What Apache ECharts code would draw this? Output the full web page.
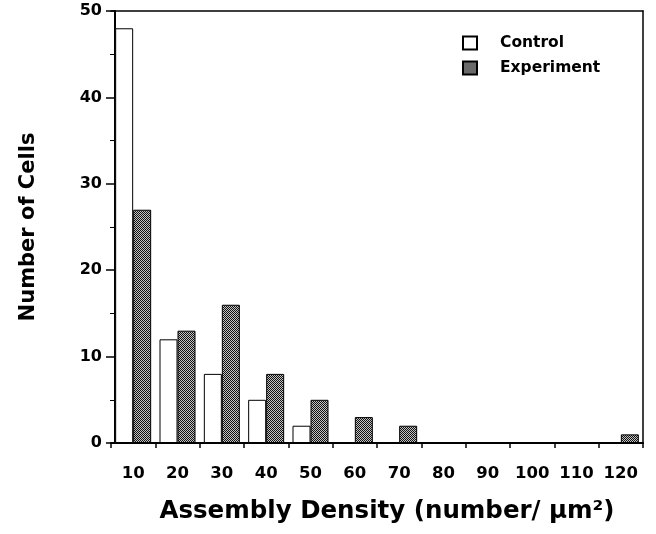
<!DOCTYPE html>
<html>
<head>
<meta charset="utf-8">
<script src="https://cdn.jsdelivr.net/npm/echarts@6/dist/echarts.min.js"></script>
<style>html,body{margin:0;padding:0;background:#fff}#c{width:656px;height:534px}</style>
</head>
<body>
<div id="c"></div>
<script>
var categories = ['10','20','30','40','50','60','70','80','90','100','110','120'];
var controlValues = [48, 12, 8, 5, 2, 0, 0, 0, 0, 0, 0, 0];
var experimentValues = [27, 13, 16, 8, 5, 3, 2, 0, 0, 0, 0, 1];
var yTicks = [0, 10, 20, 30, 40, 50];

function makePattern() {
  var cv = document.createElement('canvas');
  cv.width = 2; cv.height = 2;
  var ctx = cv.getContext('2d');
  ctx.fillStyle = '#c4c4c4'; ctx.fillRect(0,0,2,2);
  ctx.fillStyle = '#111'; ctx.fillRect(0,0,1,1); ctx.fillRect(1,1,1,1);
  return cv;
}
var pattern = { image: makePattern(), repeat: 'repeat' };
var FONT = '"DejaVu Sans", Verdana, sans-serif';

var chart = echarts.init(document.getElementById('c'), null, {renderer: 'canvas'});
chart.setOption({
  animation: false,
  backgroundColor: '#fff',
  grid: { left: 111, right: 13, top: 11, bottom: 91 },
  legend: {
    orient: 'vertical', left: 457, top: 30, itemWidth: 14, itemHeight: 13, itemGap: 9,
    icon: 'rect',
    textStyle: { fontFamily: FONT, fontWeight: 'bold', fontSize: 15.5, color: '#000', padding: [0,0,0,18] },
    data: ['Control', 'Experiment']
  },
  xAxis: [{
    type: 'category', data: categories, boundaryGap: true,
    axisLine: { lineStyle: { color: '#000', width: 2 } },
    axisTick: { show: true, interval: 0, length: 5, lineStyle: { color: '#000', width: 1.5 } },
    axisLabel: { interval: 0, margin: 22, fontFamily: FONT, fontWeight: 'bold', fontSize: 16.5, color: '#000' },
    name: 'Assembly Density (number/ \u03bcm\u00b2)', nameLocation: 'middle', nameGap: 56,
    nameTextStyle: { fontFamily: FONT, fontWeight: 'bold', fontSize: 24.5, color: '#000', padding: [0,0,0,20] }
  }, {
    type: 'category', data: categories, position: 'top',
    axisLine: { show: true, onZero: false, lineStyle: { color: '#000', width: 1.5 } },
    axisTick: { show: false }, axisLabel: { show: false }
  }],
  yAxis: [{
    type: 'value', min: yTicks[0], max: yTicks[yTicks.length-1], interval: 10, offset: -4,
    axisLine: { show: true, lineStyle: { color: '#000', width: 2 } },
    axisTick: { show: true, length: 9, lineStyle: { color: '#000', width: 1.5 } },
    minorTick: { show: true, splitNumber: 2, length: 5, lineStyle: { color: '#000', width: 1 } },
    splitLine: { show: false },
    axisLabel: { margin: 13, fontFamily: FONT, fontWeight: 'bold', fontSize: 16, color: '#000' },
    name: 'Number of Cells', nameLocation: 'middle', nameGap: 76,
    nameTextStyle: { fontFamily: FONT, fontWeight: 'bold', fontSize: 21, color: '#000' }
  }, {
    type: 'value', position: 'right', min: yTicks[0], max: yTicks[yTicks.length-1], interval: 10,
    axisLine: { show: true, onZero: false, lineStyle: { color: '#000', width: 1.5 } },
    axisTick: { show: false }, axisLabel: { show: false }, splitLine: { show: false }
  }],
  series: [
    { name: 'Control', type: 'bar', data: controlValues, barWidth: 18, barGap: '0%',
      itemStyle: { color: '#fff', borderColor: '#000', borderWidth: 1 } },
    { name: 'Experiment', type: 'bar', data: experimentValues, barWidth: 18,
      itemStyle: { color: pattern, borderColor: '#000', borderWidth: 1 } }
  ]
});
</script>
</body>
</html>
